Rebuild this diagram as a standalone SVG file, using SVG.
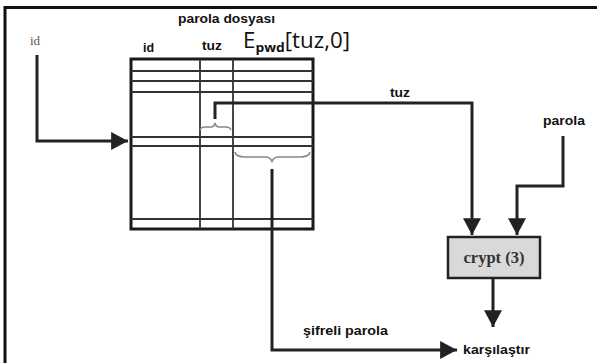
<svg xmlns="http://www.w3.org/2000/svg" width="597" height="363" viewBox="0 0 597 363">
<defs>
<style>
.frame{stroke:#111;stroke-width:3;fill:none}
.tb{stroke:#1a1a1a;stroke-width:3;fill:none}
.tl{stroke:#333;stroke-width:1.8;fill:none}
.conn{stroke:#222;stroke-width:3;fill:none}
.brace{stroke:#888;stroke-width:1.5;fill:none}
.lbl{font-family:"Liberation Sans",Arial,sans-serif;font-weight:bold;font-size:12.5px;fill:#111}
.ser{font-family:"Liberation Serif","Times New Roman",serif}
</style>
<marker id="ah" markerUnits="userSpaceOnUse" markerWidth="18" markerHeight="18" viewBox="0 0 15 16" refX="15" refY="8" orient="auto">
<path d="M0,0 L15,8 L0,16 z" fill="#222"/>
</marker>
</defs>
<rect width="597" height="363" fill="#fff"/>
<path class="frame" d="M5,363 V7.5 H597"/>

<g id="title">
<text class="lbl" x="178" y="23" textLength="97" lengthAdjust="spacingAndGlyphs">parola dosyası</text>
</g>

<g id="id-label">
<text class="ser" x="30" y="45" font-size="13" fill="#555">id</text>
</g>

<g id="parola-file">
<text class="lbl" x="143" y="52" font-size="14">id</text>
<text class="lbl" x="202" y="50" textLength="20" lengthAdjust="spacingAndGlyphs">tuz</text>
<text font-family="'Open Sans','Liberation Sans',sans-serif" fill="#111" font-size="21" x="243" y="48" textLength="107" lengthAdjust="spacingAndGlyphs">E<tspan font-size="13" font-weight="bold" dy="4">pwd</tspan><tspan dy="-4">[tuz,0]</tspan></text>
<rect class="tb" x="131" y="59" width="182" height="170"/>
<path class="tl" d="M131,71 H313 M131,81 H313 M131,92 H313 M131,137 H313 M131,146 H313 M131,219 H313 M200,59 V229 M233,59 V229"/>
<path class="brace" d="M200,130 Q201,127 205,127 L211,127 Q214,127 215,123 Q216,127 219,127 L226,127 Q230,127 231,130"/>
<path class="brace" d="M235,152 Q236,157 245,157 L265,157 Q271,157 272,162 Q273,157 279,157 L300,157 Q309,157 310,152"/>
</g>

<g id="crypt">
<rect x="448" y="237" width="92" height="41" fill="#d9d9d9" stroke="#222" stroke-width="2.5"/>
<text class="ser" x="494" y="263" font-size="16.5" font-weight="bold" fill="#333" text-anchor="middle">crypt (3)</text>
</g>

<g id="parola-input">
<text class="lbl" x="543" y="125" textLength="42" lengthAdjust="spacingAndGlyphs">parola</text>
</g>

<g id="karsilastir">
<text class="lbl" x="463" y="354" textLength="67" lengthAdjust="spacingAndGlyphs">karşılaştır</text>
</g>

<g id="connectors">
<path class="conn" d="M37,55 V141 H128" marker-end="url(#ah)"/>
<path class="conn" d="M215,119 V103 H472 V235" marker-end="url(#ah)"/>
<path class="conn" d="M563,136 V186 H517 V235" marker-end="url(#ah)"/>
<path class="conn" d="M493,278 V327" marker-end="url(#ah)"/>
<path class="conn" d="M272,169 V350 H457" marker-end="url(#ah)"/>
<text class="lbl" x="390" y="97" textLength="20" lengthAdjust="spacingAndGlyphs">tuz</text>
<text class="lbl" x="303" y="335" textLength="85" lengthAdjust="spacingAndGlyphs">şifreli parola</text>
</g>
</svg>
